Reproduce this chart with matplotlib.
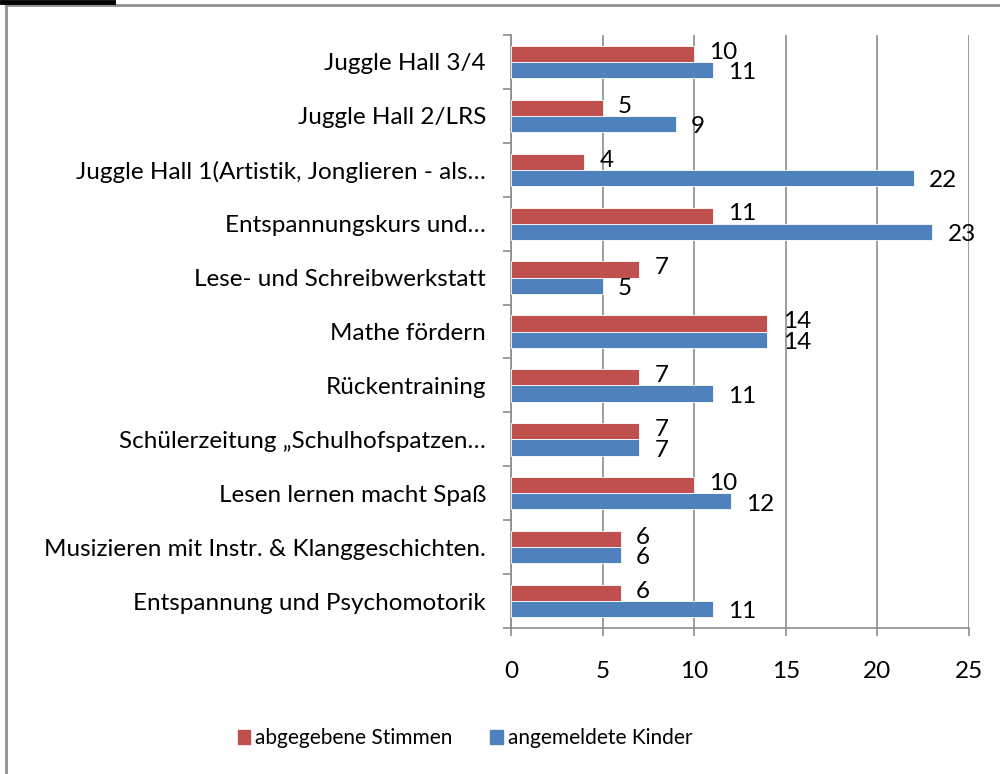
import matplotlib
matplotlib.use("Agg")
import matplotlib.pyplot as plt
from matplotlib.lines import Line2D
from matplotlib.patches import Patch
import numpy as np

plt.rcParams["font.family"] = ["Lato", "DejaVu Sans"]

categories = [
    "Juggle Hall 3/4",
    "Juggle Hall 2/LRS",
    "Juggle Hall 1(Artistik, Jonglieren - als…",
    "Entspannungskurs und…",
    "Lese- und Schreibwerkstatt",
    "Mathe fördern",
    "Rückentraining",
    "Schülerzeitung „Schulhofspatzen…",
    "Lesen lernen macht Spaß",
    "Musizieren mit Instr. & Klanggeschichten.",
    "Entspannung und Psychomotorik",
]
stimmen = [10, 5, 4, 11, 7, 14, 7, 7, 10, 6, 6]
kinder = [11, 9, 22, 23, 5, 14, 11, 7, 12, 6, 11]
x_ticks = [0, 5, 10, 15, 20, 25]

red = "#c0504d"
blue = "#4f81bd"
grey = "#8c8c8c"
fs = 17.5

fig = plt.figure(figsize=(10, 7.74), dpi=100)
ax = fig.add_axes([0.511, 0.1886, 0.458, 0.7662])

y = np.arange(len(categories))
h = 0.3
ax.barh(y - h / 2, stimmen, height=h, color=red, edgecolor="white", linewidth=0.6, zorder=3)
ax.barh(y + h / 2, kinder, height=h, color=blue, edgecolor="white", linewidth=0.6, zorder=3)

for i in range(len(categories)):
    ax.annotate(str(stimmen[i]), (stimmen[i], y[i] - h / 2 - 0.03), xytext=(11, 0),
                textcoords="offset points", va="center", ha="left", fontsize=fs)
    ax.annotate(str(kinder[i]), (kinder[i], y[i] + h / 2 + 0.05), xytext=(11, 0),
                textcoords="offset points", va="center", ha="left", fontsize=fs)

ax.set_xlim(0, 25)
ax.set_ylim(len(categories) - 0.5, -0.5)
ax.set_xticks(x_ticks)
ax.set_xticklabels([str(t) for t in x_ticks], fontsize=fs)
ax.set_yticks(y)
ax.set_yticklabels(categories, fontsize=fs)
ax.set_yticks(np.arange(len(categories) + 1) - 0.5, minor=True)
ax.tick_params(axis="y", which="major", length=0, pad=18)
ax.tick_params(axis="y", which="minor", length=6, color=grey, width=1.2)
ax.tick_params(axis="x", length=6, color=grey, width=1.2, pad=18)
ax.xaxis.grid(True, color=grey, linewidth=1.2, zorder=0)

for s in ["top", "right"]:
    ax.spines[s].set_visible(False)
for s in ["left", "bottom"]:
    ax.spines[s].set_color(grey)
    ax.spines[s].set_linewidth(1.2)

handles = [Patch(color=red, label="abgegebene Stimmen"),
           Patch(color=blue, label="angemeldete Kinder")]
fig.legend(handles=handles, loc="center", bbox_to_anchor=(0.465, 0.046), ncol=2,
           frameon=False, fontsize=15, handlelength=0.6, handleheight=0.7,
           handletextpad=0.25, columnspacing=1.8)

# outer frame lines
fig.add_artist(Line2D([0.006, 1.0], [1 - 5 / 774, 1 - 5 / 774], color="#909090", linewidth=2,
                      transform=fig.transFigure))
fig.add_artist(Line2D([0.006, 0.006], [0, 1 - 5 / 774], color="#909090", linewidth=2,
                      transform=fig.transFigure))
fig.add_artist(Line2D([0.002, 0.113], [1 - 2 / 774, 1 - 2 / 774], color="black", linewidth=3.5,
                      transform=fig.transFigure))

fig.savefig("out.png", dpi=100)
